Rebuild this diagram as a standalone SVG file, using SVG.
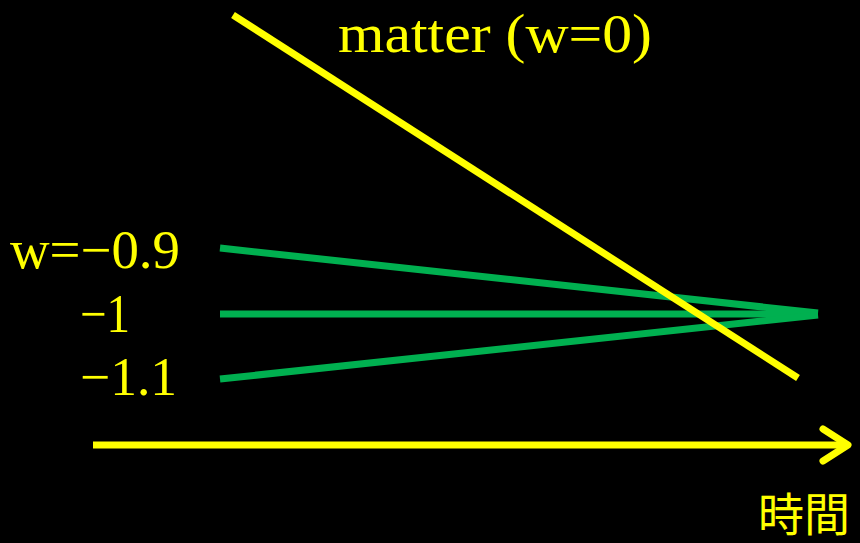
<svg xmlns="http://www.w3.org/2000/svg" width="860" height="543" viewBox="0 0 860 543">
<style>
.t{fill:#FFFF00;font-family:"Liberation Serif","DejaVu Serif",serif;font-size:54px}
.g{stroke:#00B050;stroke-width:7;fill:none}
.y{stroke:#FFFF00;stroke-width:7;fill:none}
</style>
<rect width="860" height="543" fill="#000"/>
<g id="connectors">
<line class="g" x1="220" y1="248" x2="818" y2="313"/>
<line class="g" x1="220" y1="314" x2="818" y2="314"/>
<line class="g" x1="220" y1="379" x2="818" y2="315"/>
<line class="y" x1="233" y1="15" x2="798" y2="378"/>
<line class="y" x1="93" y1="445" x2="846" y2="445"/>
<polyline class="y" points="823,429 848,445 823,461" stroke-linecap="round" stroke-linejoin="round"/>
</g>
<g id="label-matter"><text class="t" x="338" y="52" textLength="314" lengthAdjust="spacingAndGlyphs">matter (w=0)</text></g>
<g id="label-w09"><text class="t" x="10" y="268" textLength="170" lengthAdjust="spacingAndGlyphs">w=−0.9</text></g>
<g id="label-w1"><text class="t" x="80" y="332" textLength="50" lengthAdjust="spacingAndGlyphs">−1</text></g>
<g id="label-w11"><text class="t" x="80" y="395" textLength="97" lengthAdjust="spacingAndGlyphs">−1.1</text></g>
<g id="label-time"><text x="758" y="531" fill="#FFFF00" font-family="'Noto Sans CJK JP',serif" font-size="46">時間</text></g>
</svg>
